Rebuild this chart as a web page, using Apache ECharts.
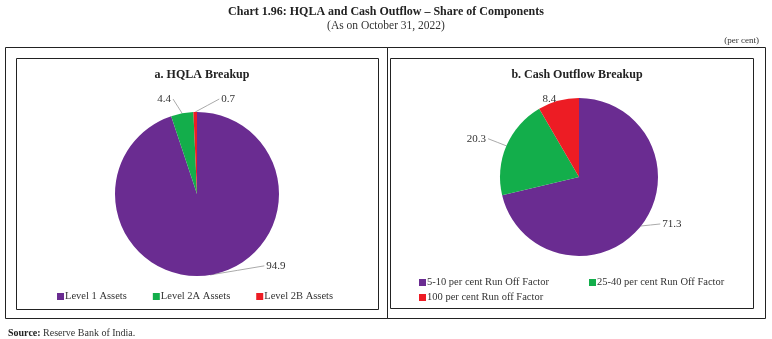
<!DOCTYPE html>
<html><head><meta charset="utf-8">
<script src="https://cdn.jsdelivr.net/npm/echarts@6/dist/echarts.min.js"></script>
<style>html,body{margin:0;padding:0;background:#fff}#c{width:772px;height:339px}</style>
</head><body><div id="c"></div>
<script>
const hqlaNames = ['Level 1 Assets', 'Level 2A Assets', 'Level 2B Assets'];
const hqlaValues = [94.9, 4.4, 0.7];
const outflowNames = ['5-10 per cent Run Off Factor', '25-40 per cent Run Off Factor', '100 per cent Run off Factor'];
const outflowValues = [71.3, 20.3, 8.4];
const colors = ['#6A2C91', '#13AE4B', '#ED1C24'];

const F = '"Liberation Serif", "DejaVu Serif", serif';
const chart = echarts.init(document.getElementById('c'));
function mk(names, vals){ return names.map((n,i)=>({name:n, value:vals[i], itemStyle:{color:colors[i]}})); }
const lbl = {show:true, position:'outside', formatter: p => p.value.toFixed(1), color:'#333', fontFamily:F, fontSize:11};
// small nudges of the library-placed labels
const nudgeA = [[32,-17],[39,-18],[63,-5]];
const nudgeB = [[-4,-7],[6,-4],[19,6]];
function layoutFor(nudge){
  return function(p){
    const d = nudge[p.dataIndex];
    const res = {dx:d[0], dy:d[1]};
    const pts = p.labelLinePoints;
    if (pts && pts.length){
      const s = pts[0];
      const r = p.labelRect;
      const x = r.x + d[0], y = r.y + d[1];
      let e;
      if (x > s[0]) e = [x - 2, y + r.height/2];
      else if (x + r.width < s[0]) e = [x + r.width + 2, y + r.height/2];
      else e = [s[0], y + r.height];
      res.labelLinePoints = [s, [(s[0]+e[0])/2, (s[1]+e[1])/2], e];
    }
    return res;
  };
}
const outData = mk(outflowNames,outflowValues);
outData[2].labelLine = {show:false};
chart.setOption({
  animation:false,
  textStyle:{fontFamily:F},
  title:[
    {text:'Chart 1.96: HQLA and Cash Outflow – Share of Components', left:'center', top:1, textStyle:{fontFamily:F, fontSize:12, fontWeight:'bold', color:'#222'}},
    {text:'(As on October 31, 2022)', left:'center', top:15, textStyle:{fontFamily:F, fontSize:11.5, fontWeight:'normal', color:'#333'}},
    {text:'(per cent)', right:8, top:31, textStyle:{fontFamily:F, fontSize:9, fontWeight:'normal', color:'#333'}},
    {text:'a. HQLA Breakup', left:197, textAlign:'center', top:64, textStyle:{fontFamily:F, fontSize:12, fontWeight:'bold', color:'#222'}},
    {text:'b. Cash Outflow Breakup', left:572, textAlign:'center', top:64, textStyle:{fontFamily:F, fontSize:12, fontWeight:'bold', color:'#222'}},
    {text:'{b|Source:} Reserve Bank of India.', left:3, top:323, textStyle:{fontFamily:F, fontSize:10, fontWeight:'normal', color:'#333', rich:{b:{fontFamily:F, fontSize:10, fontWeight:'bold', color:'#222'}}}}
  ],
  graphic:[
    {type:'rect', shape:{x:5.5, y:47.5, width:382, height:271}, style:{fill:'none', stroke:'#222', lineWidth:1}},
    {type:'rect', shape:{x:16.5, y:58.5, width:362, height:251}, style:{fill:'none', stroke:'#222', lineWidth:1}},
    {type:'rect', shape:{x:387.5, y:47.5, width:378, height:271}, style:{fill:'none', stroke:'#222', lineWidth:1}},
    {type:'rect', shape:{x:390.5, y:58.5, width:363, height:250}, style:{fill:'none', stroke:'#222', lineWidth:1}}
  ],
  legend:[
    {data:hqlaNames, left:52, top:286, itemWidth:7, itemHeight:7, icon:'rect', itemGap:26, textStyle:{fontFamily:F, fontSize:10.5, color:'#333', padding:[0,0,0,-4]}},
    {data:outflowNames.slice(0,2), left:414, top:272, itemWidth:7, itemHeight:7, icon:'rect', itemGap:40, textStyle:{fontFamily:F, fontSize:10.5, color:'#333', padding:[0,0,0,-4]}},
    {data:outflowNames.slice(2), left:414, top:287, itemWidth:7, itemHeight:7, icon:'rect', textStyle:{fontFamily:F, fontSize:10.5, color:'#333', padding:[0,0,0,-4]}}
  ],
  series:[
    {type:'pie', center:[197,194], radius:82, startAngle:90, clockwise:true, data:mk(hqlaNames,hqlaValues),
     label:lbl, labelLine:{show:true, length:8, length2:18, lineStyle:{color:'#aaa', width:1}},
     labelLayout: layoutFor(nudgeA)},
    {type:'pie', center:[579,177], radius:79, startAngle:90, clockwise:true, data:outData,
     label:lbl, labelLine:{show:true, length:8, length2:14, lineStyle:{color:'#aaa', width:1}},
     labelLayout: layoutFor(nudgeB)}
  ]
});
</script></body></html>
